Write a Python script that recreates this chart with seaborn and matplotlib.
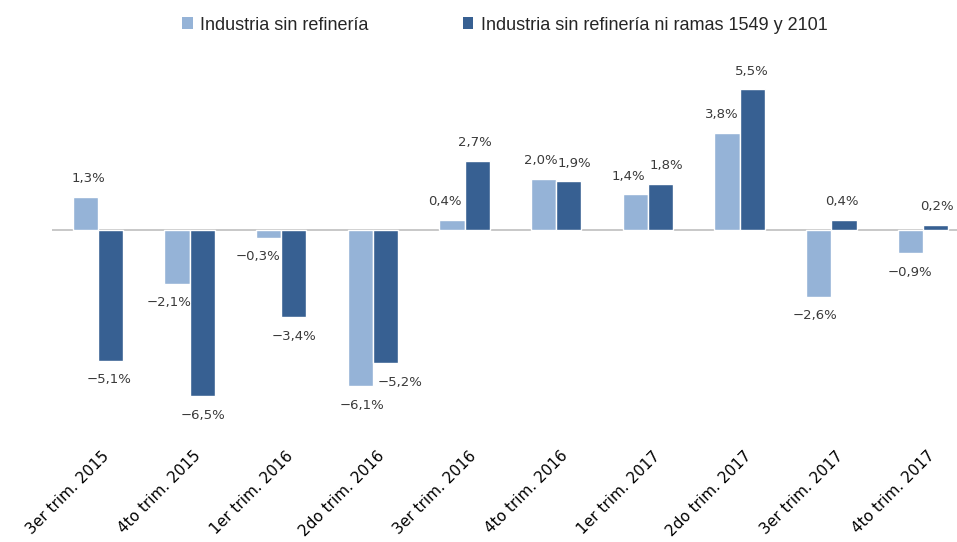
import matplotlib
matplotlib.use("Agg")
import matplotlib.pyplot as plt
import matplotlib.transforms as mtransforms
from matplotlib.patches import Patch
import seaborn as sns
import pandas as pd

categories = ["3er trim. 2015", "4to trim. 2015", "1er trim. 2016", "2do trim. 2016",
              "3er trim. 2016", "4to trim. 2016", "1er trim. 2017", "2do trim. 2017",
              "3er trim. 2017", "4to trim. 2017"]
series_names = ["Industria sin refinería", "Industria sin refinería ni ramas 1549 y 2101"]
serie_a = [1.3, -2.1, -0.3, -6.1, 0.4, 2.0, 1.4, 3.8, -2.6, -0.9]
serie_b = [-5.1, -6.5, -3.4, -5.2, 2.7, 1.9, 1.8, 5.5, 0.4, 0.2]

# small horizontal nudges of the value labels (pixels), as in the reference
label_dx_a = [3, -8, -11, 2, -7, -3, -7, -5, -4, 0]
label_dx_b = [-1, 1, 0, 15, -2, 5, 6, 0, -2, 1]

colors = ["#95B3D7", "#376092"]

df = pd.DataFrame({
    "cat": categories * 2,
    "serie": [series_names[0]] * len(categories) + [series_names[1]] * len(categories),
    "val": serie_a + serie_b,
})

sns.set_theme(style="white")
plt.rcParams["font.family"] = ["DejaVu Sans"]

fig = plt.figure(figsize=(9.57, 5.42), dpi=100)
W, H = 957, 542
ax = fig.add_axes([52 / W, (H - 440) / H, (957 - 52) / W, (440 - 60) / H])

sns.barplot(data=df, x="cat", y="val", hue="serie", hue_order=series_names,
            order=categories, palette=colors, width=0.55, edgecolor="white",
            linewidth=1, ax=ax, legend=False, saturation=1)

ax.set_xlim(-0.5, (957 - 98) / 91.67)
ax.set_ylim(-8.2, 6.64)
ax.axhline(0, color="#BFBFBF", lw=1.2, zorder=0.5)
for s in ax.spines.values():
    s.set_visible(False)
ax.set_yticks([])
ax.set_xlabel("")
ax.set_ylabel("")
ax.tick_params(axis="x", length=0, pad=6)
ax.set_xticks(range(len(categories)))
ax.set_xticklabels(categories, rotation=45, ha="right", rotation_mode="anchor",
                   fontsize=11, color="#000000")
off = mtransforms.ScaledTranslation(4 / 100, 0, fig.dpi_scale_trans)
for lbl in ax.get_xticklabels():
    lbl.set_transform(lbl.get_transform() + off)

# value labels
for cont, vals, dxs in zip(ax.containers, [serie_a, serie_b], [label_dx_a, label_dx_b]):
    for bar, v, dx in zip(cont, vals, dxs):
        xc = bar.get_x() + bar.get_width() / 2
        dy = 18 if v >= 0 else -19
        ax.annotate(f"{v:.1f}%".replace(".", ",").replace("-", "\u2212"),
                    xy=(xc, v), xytext=(dx, dy), textcoords="offset pixels",
                    ha="center", va="center", fontsize=9.5, color="#3A3A3A")

handles = [Patch(facecolor=c, edgecolor="none") for c in colors]
fig.legend(handles, series_names, loc="center left", bbox_to_anchor=(166 / W, 1 - 25 / H),
           ncol=2, frameon=False, handlelength=0.6, handleheight=0.6, handletextpad=0.4,
           columnspacing=5.2, prop={"family": ["Liberation Sans", "DejaVu Sans"], "size": 13})

fig.savefig("out.png", dpi=100)
